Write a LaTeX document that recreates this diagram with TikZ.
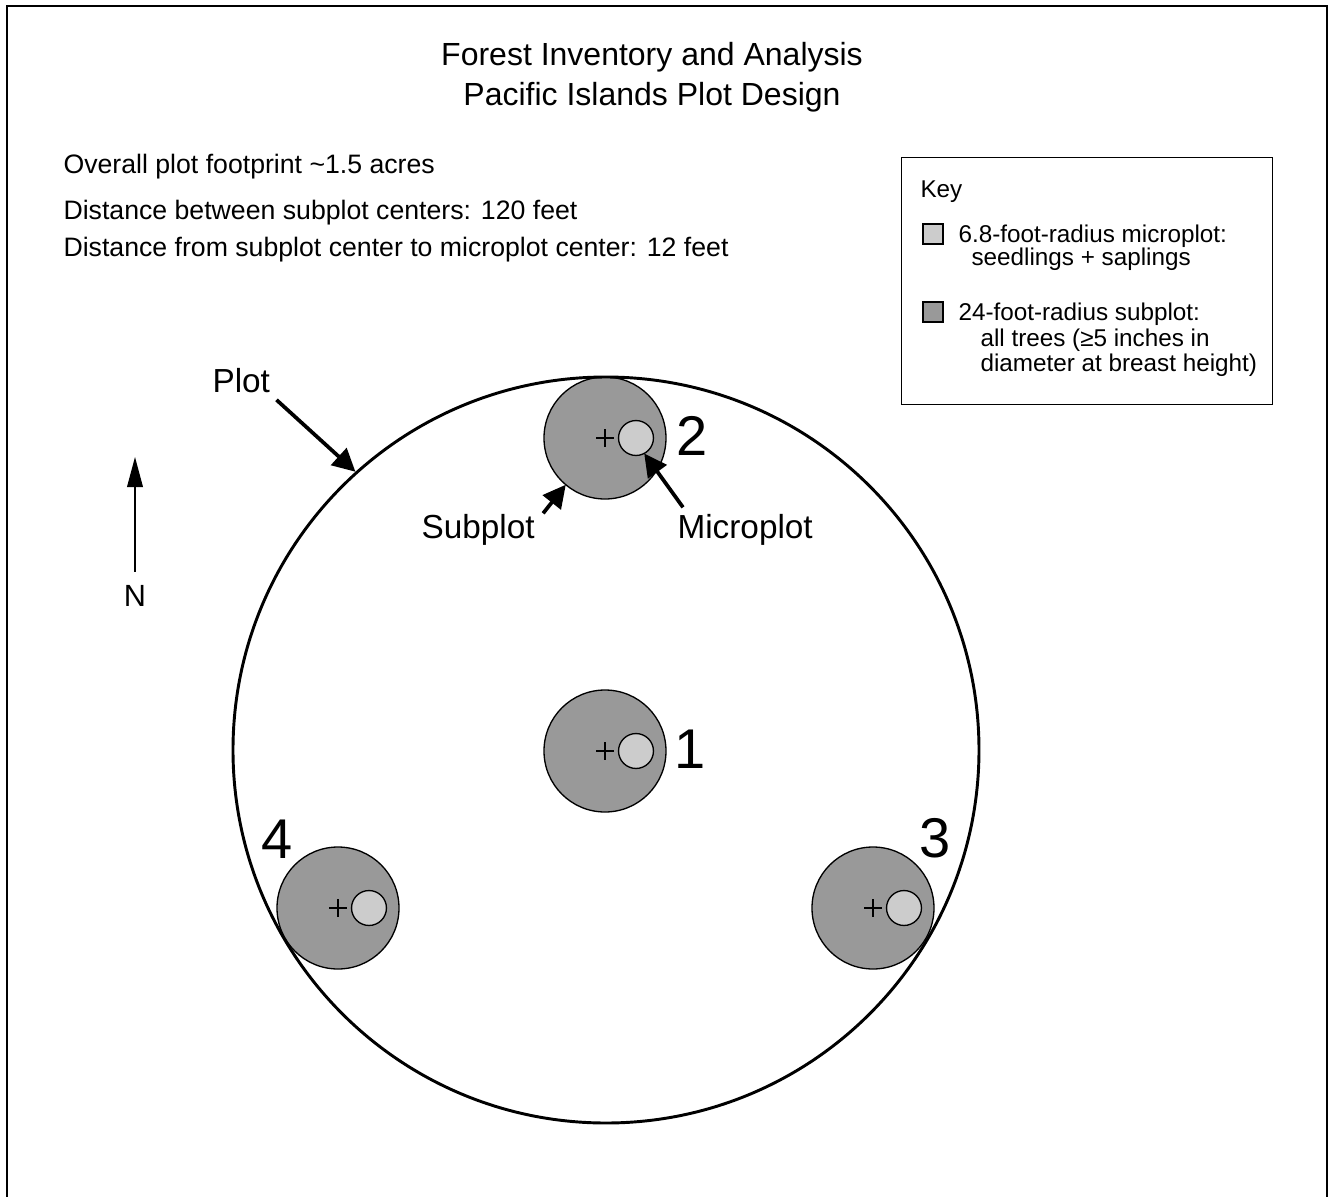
\documentclass[tikz,border=0pt]{standalone}
\usepackage{fontspec}
\setmainfont{Liberation Sans}[Ligatures=NoCommon]
\usetikzlibrary{arrows.meta}
\definecolor{subgray}{gray}{0.6}
\definecolor{microgray}{gray}{0.8}
\tikzset{
  subplot/.style={circle, draw, fill=subgray, line width=0.5pt, minimum size=45.75pt, inner sep=0pt, outer sep=0pt},
  microplot/.style={circle, draw, fill=microgray, line width=0.5pt, minimum size=13.1pt, inner sep=0pt, outer sep=0pt},
  pointer/.style={line width=1.4pt, -{Triangle[length=8.5pt,width=8.5pt]}},
  titletext/.style={inner sep=0pt, anchor=base, font=\fontsize{12}{14}\selectfont},
  infotext/.style={inner sep=0pt, anchor=base west, font=\fontsize{10}{12}\selectfont},
  keytext/.style={inner sep=0pt, anchor=base west, font=\fontsize{9.1}{10}\selectfont},
  keybox/.style={draw, line width=0.4pt, minimum size=7.5pt, inner sep=0pt},
  calltext/.style={inner sep=0pt, anchor=base west, font=\fontsize{12.5}{14}\selectfont},
  plotnum/.style={inner sep=0pt, anchor=base, font=\fontsize{21}{24}\selectfont}
}
\begin{document}
\begin{tikzpicture}[x=0.375pt, y=-0.375pt]
	\useasboundingbox (0,0) rectangle (1330,1197);
	\draw[line width=0.6pt] (7,1205) -- (7,6) -- (1327,6) -- (1327,1205);
	\node[titletext] (title1) at (652,65) {Forest Inventory and Analysis};
	\node[titletext] (title2) at (652,105) {Pacific Islands Plot Design};
	\node[infotext] (info1) at (63,173) {Overall plot footprint \textasciitilde1.5 acres};
	\node[infotext] (info2) at (63,219) {Distance between subplot centers: 120 feet};
	\node[infotext] (info3) at (63,256) {Distance from subplot center to microplot center: 12 feet};

	\node[draw, line width=0.5pt, minimum width=139.1pt, minimum height=92.6pt, inner sep=0pt, anchor=north west] (key) at (901,157) {};
	\node[keytext] (keytitle) at (920,197) {Key};
	\node[keybox, fill=microgray] (box1) at (933,234) {};
	\node[keytext] (key1a) at (958,242) {6.8-foot-radius microplot:};
	\node[keytext] (key1b) at (971,265) {seedlings + saplings};
	\node[keybox, fill=subgray] (box2) at (933,312) {};
	\node[keytext] (key2a) at (958,320) {24-foot-radius subplot:};
	\node[keytext] (key2b) at (980,346) {all trees (≥5 inches in};
	\node[keytext] (key2c) at (980,371) {diameter at breast height)};

	\foreach \n/\x/\y/\lx/\ly in {1/605/751/690/768, 2/605/438/692/455, 3/873/908/935/857, 4/338/908/277/858}{
		\node[subplot] (sub\n) at (\x,\y) {};
		\node[microplot] (micro\n) at (\x+31,\y) {};
		\draw[line width=0.4pt] (\x-9,\y) -- (\x+9,\y) (\x,\y-9) -- (\x,\y+9);
		\node[plotnum] (num\n) at (\lx,\ly) {\n};
	}
	\node[circle, draw, line width=1.1pt, minimum size=279.75pt, inner sep=0pt] (plot) at (606,750) {};

	\node[calltext] (plotlabel) at (212,392) {Plot};
	\node[calltext] (sublabel) at (421,538) {Subplot};
	\node[calltext] (microlabel) at (677,538) {Microplot};
	\draw[pointer] ([shift={(6,7)}]plotlabel.south east) -- (plot.132);
	\draw[pointer] ([shift={(8,0)}]sublabel.north east) -- (sub2.230);
	\draw[pointer] ([shift={(6,-6)}]microlabel.north west) -- (micro2.298);

	\node[inner sep=0pt, font=\fontsize{11.5}{13}\selectfont] (compass) at (135,596) {N};
	\coordinate (ntip) at (135,457);
	\draw[line width=0.5pt, -{Triangle[length=11.25pt,width=5.9pt]}] ([shift={(0,-13)}]compass.north) -- (ntip);
\end{tikzpicture}
\end{document}
